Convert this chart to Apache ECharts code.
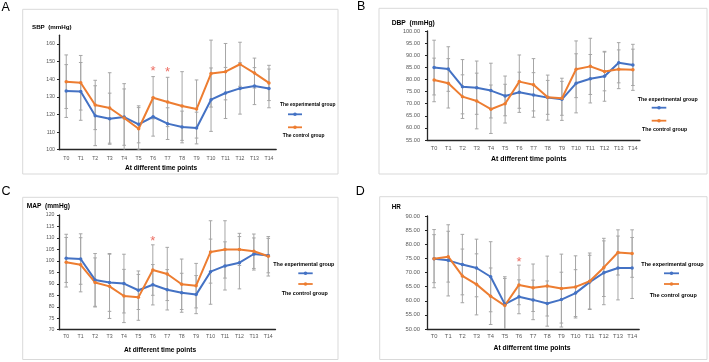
<!DOCTYPE html>
<html><head><meta charset="utf-8">
<script src="https://cdn.jsdelivr.net/npm/echarts@6/dist/echarts.min.js"></script>
<style>html,body{margin:0;padding:0;background:#fff}#c{width:709px;height:362px}</style>
</head><body><div id="c"></div>
<script>
const categories = ['T0','T1','T2','T3','T4','T5','T6','T7','T8','T9','T10','T11','T12','T13','T14'];
const seriesNames = ['The experimental group','The control group'];

const sbpExp   = [133.3,133.1,119.3,117.6,118.5,114.4,118.7,114.8,112.9,112.3,128.4,132.2,134.8,136.1,134.8];
const sbpCtl   = [138.6,138.0,125.4,123.7,118.0,111.9,129.5,127.1,124.8,123.1,143.2,144.3,148.5,143.5,137.9];
const sbpExpSD = [15.0,16.4,17.0,14.5,16.0,10.5,11.0,9.0,9.0,9.0,18.0,14.5,14.6,10.5,11.0];
const sbpCtlSD = [15.2,15.5,14.0,20.0,19.5,12.0,12.0,14.0,19.5,16.5,19.0,16.0,12.5,8.5,10.0];
const sbpStars = [['T6',146.2],['T7',145.5]];
const sbpTicks = [100,110,120,130,140,150,160];

const dbpExp   = [84.9,84.3,77.0,76.6,75.4,73.2,74.7,73.6,72.5,71.8,78.4,80.3,81.3,86.9,86.0];
const dbpCtl   = [79.8,78.4,72.9,71.1,67.7,70.0,79.1,77.8,72.6,72.2,84.2,85.4,83.3,84.2,84.0];
const dbpExpSD = [11.3,9.2,11.2,11.0,11.3,8.2,8.3,9.2,9.3,8.7,12.2,10.0,10.3,8.3,8.5];
const dbpCtlSD = [9.0,10.2,9.0,11.5,10.0,8.0,11.0,10.8,7.0,7.0,11.7,11.6,8.0,8.0,8.5];
const dbpStars = [];
const dbpTicks = [55,60,65,70,75,80,85,90,95,100];

const mapExp   = [101.1,100.8,91.7,90.6,90.1,87.2,89.6,87.4,86.1,85.3,95.3,97.8,99.2,103.0,102.3];
const mapCtl   = [99.4,98.3,90.6,88.9,84.7,84.1,96.0,94.3,89.8,89.2,103.9,105.0,105.0,104.2,102.0];
const mapExpSD = [10.5,11.0,11.5,12.6,12.8,8.4,8.8,8.8,8.5,8.3,14.2,10.5,11.4,7.0,7.5];
const mapCtlSD = [10.8,11.8,10.7,14.0,11.6,10.0,11.0,11.6,11.0,9.7,13.6,12.5,7.0,7.5,8.6];
const mapStars = [['T6',110.0]];
const mapTicks = [70,75,80,85,90,95,100,105,110,115,120];

const hrExp    = [74.9,74.3,72.8,71.6,68.5,58.8,61.4,60.3,59.0,60.4,62.7,66.6,69.9,71.6,71.6];
const hrCtl    = [74.9,75.6,68.8,65.8,61.6,58.3,65.6,64.6,65.2,64.3,64.9,66.9,71.8,77.1,76.7];
const hrExpSD  = [10.3,12.6,10.7,10.2,12.4,9.7,6.0,7.0,8.0,9.7,8.3,9.5,11.3,11.3,10.8];
const hrCtlSD  = [8.5,9.0,9.5,10.8,10.0,9.6,7.0,8.4,10.6,12.2,11.0,10.0,10.3,8.0,8.4];
const hrStars  = [['T6',74.8]];
const hrTicks  = [50,55,60,65,70,75,80,85,90];

const FONT = '"Liberation Sans", Arial, sans-serif';
const BLUE = '#4472C4', ORANGE = '#ED7D31', GRAY = '#A6A6A6';

const panels = [
  {letter:'A', lp:[1.5,7.5], box:[22.7,9.3,315.3,164.7], grid:{left:59,top:35.2,width:217.2,height:114.5},
   min:100, max:165, ticks:sbpTicks, dec:0, tickFs:5.2, yLm:4,
   exp:sbpExp, ctl:sbpCtl, expSD:sbpExpSD, ctlSD:sbpCtlSD, stars:sbpStars,
   yTitle:'SBP  (mmHg)', yt:[32,27], ytFs:6.2, xTitle:'At different time points', xt:[161,168.3], xtFs:6.6, xLm:6,
   lg:{t1:[280,105], l1:[288,302,114.3], l2:[288,302,127.3], t2:[282.7,136], fs:4.9}},
  {letter:'B', lp:[357,6.3], box:[379,8.3,328,165.7], grid:{left:427,top:31,width:213,height:109},
   min:55, max:100, ticks:dbpTicks, dec:2, tickFs:5.6, yLm:7,
   exp:dbpExp, ctl:dbpCtl, expSD:dbpExpSD, ctlSD:dbpCtlSD, stars:dbpStars,
   yTitle:'DBP  (mmHg)', yt:[391.7,22.7], ytFs:6.7, xTitle:'At different time points', xt:[528.8,159.3], xtFs:6.9, xLm:5.5,
   lg:{t1:[637.7,99.3], l1:[651.7,666.3,107.7], l2:[651.7,666.3,120.7], t2:[642,130], fs:5.3}},
  {letter:'C', lp:[1.5,191.3], box:[22.7,197.3,315.3,162.2], grid:{left:59,top:215,width:216.5,height:114.7},
   min:70, max:120, ticks:mapTicks, dec:0, tickFs:5.2, yLm:4.5,
   exp:mapExp, ctl:mapCtl, expSD:mapExpSD, ctlSD:mapCtlSD, stars:mapStars,
   yTitle:'MAP  (mmHg)', yt:[26.7,205.7], ytFs:6.6, xTitle:'At different time points', xt:[160,350], xtFs:6.6, xLm:4.5,
   lg:{t1:[273.3,265], l1:[298.3,312.7,273.3], l2:[298.3,312.7,284], t2:[281.7,294], fs:5.4}},
  {letter:'D', lp:[355.7,191.3], box:[379.7,196.7,327.3,162.8], grid:{left:427,top:216,width:212.2,height:113},
   min:50, max:90, ticks:hrTicks, dec:2, tickFs:5.8, yLm:7,
   exp:hrExp, ctl:hrCtl, expSD:hrExpSD, ctlSD:hrCtlSD, stars:hrStars,
   yTitle:'HR', yt:[391.7,207.7], ytFs:6.3, xTitle:'At differrent time points', xt:[532,348.3], xtFs:6.8, xLm:4.5,
   lg:{t1:[641.3,264], l1:[664,679,273.3], l2:[664,679,284], t2:[649.7,295.7], fs:5.5}}
];

function errRender(params, api) {
  const x = api.value(0), m = api.value(1), s = api.value(2);
  const top = api.coord([x, m + s]), bot = api.coord([x, m - s]);
  const hw = 1.8, st = {stroke: GRAY, lineWidth: 1};
  return {type:'group', children:[
    {type:'line', shape:{x1:top[0], y1:top[1], x2:bot[0], y2:bot[1]}, style:st},
    {type:'line', shape:{x1:top[0]-hw, y1:top[1], x2:top[0]+hw, y2:top[1]}, style:st},
    {type:'line', shape:{x1:bot[0]-hw, y1:bot[1], x2:bot[0]+hw, y2:bot[1]}, style:st}
  ]};
}

const grid = [], xAxis = [], yAxis = [], series = [], graphic = [];
panels.forEach((p, i) => {
  grid.push(Object.assign({containLabel:false}, p.grid));
  xAxis.push({type:'category', gridIndex:i, data:categories, boundaryGap:true,
    axisLine:{lineStyle:{color:'#262626', width:1.3}}, axisTick:{show:false},
    axisLabel:{fontSize:p.tickFs, color:'#595959', fontFamily:FONT, margin:p.xLm, interval:0}});
  yAxis.push({type:'value', gridIndex:i, min:p.min, max:p.max,
    splitLine:{show:false},
    axisLine:{show:true, lineStyle:{color:'#262626', width:1.3}},
    axisTick:{show:true, length:2, customValues:p.ticks, lineStyle:{color:'#262626'}},
    axisLabel:{fontSize:p.tickFs, color:'#595959', fontFamily:FONT, margin:p.yLm, customValues:p.ticks,
      formatter: v => Number(v).toFixed(p.dec)}});
  const mkErr = (m, s) => m.map((v, k) => [k, v, s[k]]);
  series.push({type:'custom', xAxisIndex:i, yAxisIndex:i, renderItem:errRender, clip:true, z:1,
    data:mkErr(p.exp, p.expSD), silent:true});
  series.push({type:'custom', xAxisIndex:i, yAxisIndex:i, renderItem:errRender, clip:true, z:1,
    data:mkErr(p.ctl, p.ctlSD), silent:true});
  series.push({name:seriesNames[0], type:'line', xAxisIndex:i, yAxisIndex:i, data:p.exp, z:3,
    symbol:'circle', symbolSize:3.5, lineStyle:{color:BLUE, width:2}, itemStyle:{color:BLUE}});
  series.push({name:seriesNames[1], type:'line', xAxisIndex:i, yAxisIndex:i, data:p.ctl, z:3,
    symbol:'circle', symbolSize:3.5, lineStyle:{color:ORANGE, width:2}, itemStyle:{color:ORANGE}});
  if (p.stars.length) series.push({type:'scatter', xAxisIndex:i, yAxisIndex:i, data:p.stars, symbolSize:0.01, z:4,
    label:{show:true, position:'inside', formatter:'*', color:'#E8483B', fontSize:13, fontFamily:FONT, offset:[0,3]}});

  graphic.push({type:'rect', shape:{x:p.box[0], y:p.box[1], width:p.box[2], height:p.box[3]},
    style:{fill:null, stroke:'#D9D9D9', lineWidth:1}, z:0});
  graphic.push({type:'text', x:p.lp[0], y:p.lp[1], style:{text:p.letter, font:'12.5px '+FONT, fill:'#000', verticalAlign:'middle'}});
  graphic.push({type:'text', x:p.yt[0], y:p.yt[1], style:{text:p.yTitle, font:'bold '+p.ytFs+'px '+FONT, fill:'#000', verticalAlign:'middle'}});
  graphic.push({type:'text', x:p.xt[0], y:p.xt[1], style:{text:p.xTitle, font:'bold '+p.xtFs+'px '+FONT, fill:'#000', align:'center', verticalAlign:'middle'}});
  const g = p.lg;
  graphic.push({type:'text', x:g.t1[0], y:g.t1[1], style:{text:seriesNames[0], font:'bold '+g.fs+'px '+FONT, fill:'#000', verticalAlign:'middle'}});
  graphic.push({type:'text', x:g.t2[0], y:g.t2[1], style:{text:seriesNames[1], font:'bold '+g.fs+'px '+FONT, fill:'#000', verticalAlign:'middle'}});
  [[g.l1, BLUE], [g.l2, ORANGE]].forEach(([l, c]) => {
    graphic.push({type:'line', shape:{x1:l[0], y1:l[2], x2:l[1], y2:l[2]}, style:{stroke:c, lineWidth:1.8}});
    graphic.push({type:'circle', shape:{cx:(l[0]+l[1])/2, cy:l[2], r:1.8}, style:{fill:c}});
  });
});

const chart = echarts.init(document.getElementById('c'), null, {renderer:'canvas'});
chart.setOption({animation:false, backgroundColor:'#fff', grid, xAxis, yAxis, series, graphic});
</script></body></html>
